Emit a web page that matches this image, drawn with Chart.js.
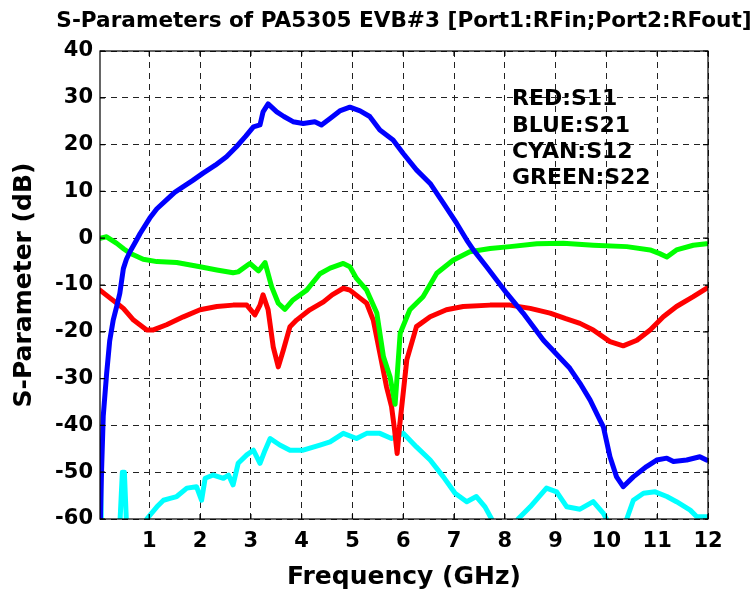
<!DOCTYPE html>
<html>
<head>
<meta charset="utf-8">
<script src="https://cdn.jsdelivr.net/npm/chart.js@4.4.0/dist/chart.umd.min.js"></script>
<style>
  html, body { margin: 0; padding: 0; background: #fff; }
  #wrap { width: 754px; height: 599px; }
</style>
</head>
<body>
<div id="wrap"><canvas id="spChart" width="754" height="599"></canvas></div>
<script>
// axis ticks
const xTicks = [1, 2, 3, 4, 5, 6, 7, 8, 9, 10, 11, 12];
const yTicks = [-60, -50, -40, -30, -20, -10, 0, 10, 20, 30, 40];

// S11 (red)
const s11Freq = [0.03, 0.23, 0.35, 0.49, 0.69, 0.95, 1.08, 1.34, 1.67, 2.0, 2.33, 2.65, 2.92, 3.08, 3.18, 3.24, 3.34, 3.44, 3.54, 3.64, 3.77, 3.9, 4.16, 4.43, 4.6, 4.82, 4.95, 5.15, 5.28, 5.41, 5.54, 5.67, 5.77, 5.83, 5.88, 5.93, 5.97, 6.07, 6.26, 6.53, 6.85, 7.18, 7.71, 8.1, 8.5, 8.89, 9.2, 9.48, 9.74, 10.07, 10.33, 10.6, 10.86, 11.12, 11.38, 11.71, 11.97];
const s11Db = [-11.1, -12.8, -13.8, -15, -17.5, -19.6, -19.6, -18.5, -16.8, -15.3, -14.6, -14.3, -14.3, -16.4, -14.3, -12.1, -15.3, -23.2, -27.5, -23.9, -18.9, -17.5, -15.3, -13.6, -12.1, -10.7, -11.1, -12.8, -13.9, -17.5, -24.6, -31.7, -36, -41, -46, -40, -36, -26, -18.9, -16.8, -15.3, -14.6, -14.3, -14.3, -15, -16, -17.2, -18.2, -19.6, -22.1, -23, -21.8, -19.6, -16.8, -14.6, -12.5, -10.7];

// S21 (blue)
const s21Freq = [0.03, 0.06, 0.094, 0.16, 0.22, 0.29, 0.36, 0.42, 0.49, 0.55, 0.62, 0.75, 0.82, 1.01, 1.15, 1.34, 1.5, 1.67, 1.85, 2.06, 2.3, 2.52, 2.72, 2.9, 3.05, 3.18, 3.24, 3.34, 3.51, 3.65, 3.83, 4.03, 4.26, 4.39, 4.56, 4.75, 4.95, 5.15, 5.34, 5.54, 5.8, 6.0, 6.26, 6.53, 6.79, 7.05, 7.25, 7.38, 7.64, 8.04, 8.36, 8.76, 9.08, 9.28, 9.48, 9.68, 9.87, 9.94, 10.07, 10.2, 10.33, 10.53, 10.79, 10.99, 11.19, 11.32, 11.58, 11.84, 11.97];
const s21Db = [-64, -50, -38, -29, -22, -17.5, -14.5, -11.8, -6.5, -4.5, -2.9, -0.4, 1.0, 4.3, 6.3, 8.2, 9.8, 11, 12.3, 13.9, 15.6, 17.4, 19.6, 21.8, 23.8, 24.2, 27.0, 28.7, 27, 26, 24.9, 24.5, 24.9, 24.2, 25.6, 27.2, 28.0, 27.2, 26, 23.1, 21, 18.1, 14.6, 11.7, 7.5, 3.2, -0.4, -2.5, -6.1, -11.8, -16, -21.8, -25.5, -27.8, -31, -34.6, -38.8, -40.3, -46.7, -51, -53.1, -51, -48.8, -47.4, -47, -47.7, -47.4, -46.7, -47.4];

// S12 (cyan)
const s12Freq = [0.03, 0.065, 0.40, 0.47, 0.51, 0.57, 0.9, 0.95, 1.15, 1.28, 1.41, 1.54, 1.74, 1.93, 2.03, 2.1, 2.26, 2.46, 2.56, 2.65, 2.75, 2.92, 3.05, 3.18, 3.28, 3.38, 3.57, 3.77, 4.03, 4.36, 4.56, 4.82, 5.08, 5.28, 5.54, 5.77, 6.0, 6.26, 6.53, 6.79, 7.02, 7.25, 7.44, 7.61, 7.74, 7.85, 8.15, 8.26, 8.5, 8.82, 9.02, 9.22, 9.48, 9.74, 9.94, 10.0, 10.1, 10.3, 10.4, 10.53, 10.73, 10.96, 11.19, 11.38, 11.65, 11.78, 11.97];
const s12Db = [-44, -66, -66, -50, -50, -66, -66, -60, -57.4, -56, -55.6, -55.2, -53.4, -53.1, -56, -51.3, -50.6, -51.3, -50.6, -52.7, -48.1, -46.3, -45.3, -48.1, -45.3, -42.8, -44.2, -45.3, -45.3, -44.2, -43.5, -41.7, -42.8, -41.7, -41.7, -42.8, -41.7, -44.6, -47.4, -51, -54.5, -56.3, -55.2, -57.4, -60, -66, -66, -60, -57.4, -53.4, -54.2, -57.4, -57.9, -56.3, -58.8, -60, -66, -66, -60, -56, -54.5, -54.2, -55.2, -56.3, -58.1, -59.5, -59.5];

// S22 (green)
const s22Freq = [0.03, 0.16, 0.36, 0.5, 0.62, 0.88, 1.15, 1.54, 2.0, 2.33, 2.65, 2.75, 2.98, 3.15, 3.28, 3.41, 3.54, 3.67, 3.83, 4.1, 4.36, 4.56, 4.82, 4.95, 5.08, 5.28, 5.48, 5.61, 5.74, 5.84, 5.94, 6.13, 6.39, 6.66, 6.98, 7.31, 7.71, 8.1, 8.63, 9.15, 9.74, 10.4, 10.86, 11.05, 11.19, 11.38, 11.71, 11.97];
const s22Db = [0, 0.3, -1.1, -2.3, -3.2, -4.5, -5, -5.2, -6.1, -6.8, -7.4, -7.2, -5.4, -7, -5.2, -10.4, -13.9, -15.2, -13.2, -11.1, -7.6, -6.4, -5.4, -6.1, -8.6, -11.1, -16, -25.3, -29.6, -35.5, -20.3, -15.3, -12.5, -7.5, -4.7, -2.9, -2.2, -1.8, -1.2, -1.1, -1.5, -1.8, -2.5, -3.3, -4, -2.5, -1.5, -1.2];

const titleText = 'S-Parameters of PA5305 EVB#3 [Port1:RFin;Port2:RFout]';
const noteLines = ['RED:S11', 'BLUE:S21', 'CYAN:S12', 'GREEN:S22'];

const pts = (fs, ds) => fs.map((f, i) => ({ x: f, y: ds[i] }));

const FONT = '"DejaVu Sans", sans-serif';

// box, inward ticks, title and the colour note
const framePlugin = {
    id: 'frame',
    afterDraw(chart) {
        const { ctx, chartArea: a, scales: { x, y } } = chart;
        ctx.save();
        ctx.strokeStyle = '#000';
        ctx.lineWidth = 1.2;
        ctx.strokeRect(a.left, a.top, a.right - a.left, a.bottom - a.top);
        const len = 5;
        ctx.beginPath();
        x.ticks.forEach((t, i) => {
            const px = x.getPixelForTick(i);
            ctx.moveTo(px, a.bottom); ctx.lineTo(px, a.bottom - len);
            ctx.moveTo(px, a.top); ctx.lineTo(px, a.top + len);
        });
        y.ticks.forEach((t, i) => {
            const py = y.getPixelForTick(i);
            ctx.moveTo(a.left, py); ctx.lineTo(a.left + len, py);
            ctx.moveTo(a.right, py); ctx.lineTo(a.right - len, py);
        });
        ctx.stroke();

        ctx.fillStyle = '#000';
        ctx.font = 'bold 21.6px ' + FONT;
        ctx.textAlign = 'center';
        ctx.textBaseline = 'alphabetic';
        ctx.fillText(titleText, (a.left + a.right) / 2, 27);

        ctx.font = 'bold 22px ' + FONT;
        ctx.textAlign = 'left';
        const nx = x.getPixelForValue(8.14);
        const ny = y.getPixelForValue(28.4);
        noteLines.forEach((s, i) => ctx.fillText(s, nx, ny + i * 26.3));
        ctx.restore();
    }
};

const lineStyle = {
    pointRadius: 0,
    borderWidth: 5,
    tension: 0,
    fill: false,
    borderJoinStyle: 'round',
    borderCapStyle: 'round'
};

const ctx = document.getElementById('spChart').getContext('2d');

new Chart(ctx, {
    type: 'line',
    data: {
        datasets: [
            { ...lineStyle, label: 'S21', data: pts(s21Freq, s21Db), borderColor: '#0000ff', order: 0 },
            { ...lineStyle, label: 'S22', data: pts(s22Freq, s22Db), borderColor: '#00ff00', order: 1 },
            { ...lineStyle, label: 'S11', data: pts(s11Freq, s11Db), borderColor: '#ff0000', order: 2 },
            { ...lineStyle, label: 'S12', data: pts(s12Freq, s12Db), borderColor: '#00ffff', order: 3 }
        ]
    },
    options: {
        responsive: false,
        animation: false,
        layout: { padding: { left: 0, right: 46, top: 51, bottom: 0 } },
        plugins: {
            legend: { display: false },
            tooltip: { enabled: false },
            title: { display: false }
        },
        scales: {
            x: {
                type: 'linear',
                min: 0.03,
                max: 12,
                afterBuildTicks: s => { s.ticks = xTicks.map(v => ({ value: v })); },
                afterFit: s => { s.height = 80; },
                grid: { color: '#222', lineWidth: 1, drawTicks: false },
                border: { display: false, dash: [6, 5] },
                ticks: { color: '#000', padding: 10, font: { family: FONT, size: 21, weight: 'bold' } },
                title: {
                    display: true,
                    text: 'Frequency (GHz)',
                    color: '#000',
                    padding: { top: 0, bottom: 7 },
                    font: { family: FONT, size: 25, weight: 'bold' }
                }
            },
            y: {
                min: -60,
                max: 40,
                afterBuildTicks: s => { s.ticks = yTicks.map(v => ({ value: v })); },
                afterFit: s => { s.width = 100; },
                grid: { color: '#222', lineWidth: 1, drawTicks: false },
                border: { display: false, dash: [6, 5] },
                ticks: { color: '#000', padding: 7, font: { family: FONT, size: 21, weight: 'bold' } },
                title: {
                    display: true,
                    text: 'S-Parameter (dB)',
                    color: '#000',
                    padding: { top: 9, bottom: 0 },
                    font: { family: FONT, size: 25, weight: 'bold' }
                }
            }
        }
    },
    plugins: [framePlugin]
});
</script>
</body>
</html>
